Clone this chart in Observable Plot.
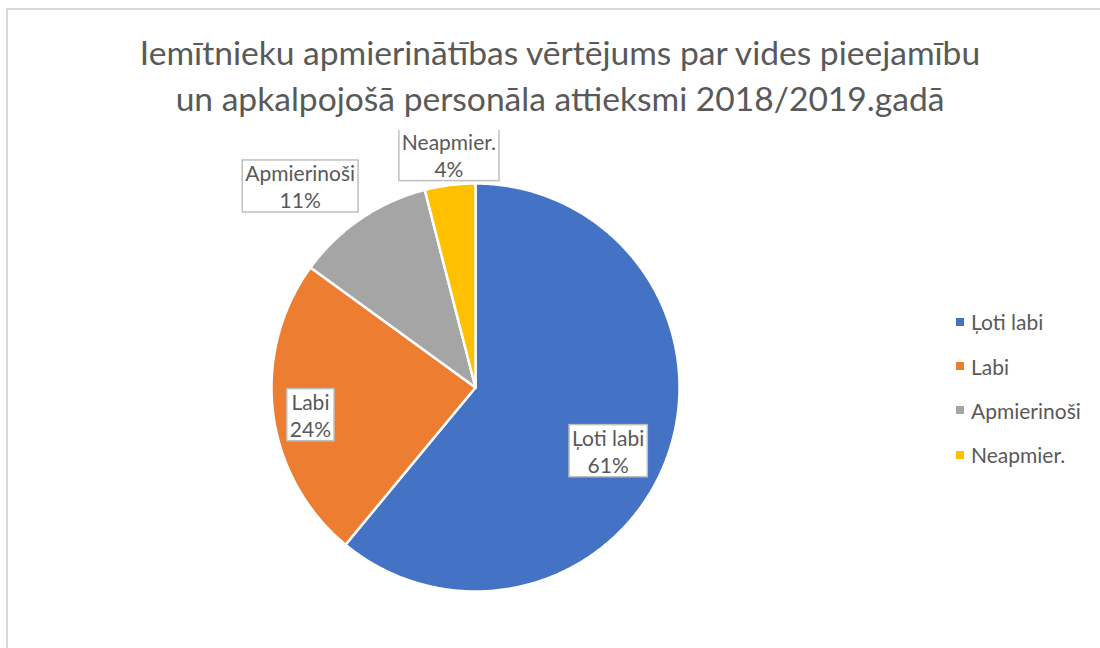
<!DOCTYPE html>
<html>
<head>
<meta charset="utf-8">
<script src="https://cdn.jsdelivr.net/npm/d3@7"></script>
<script src="https://cdn.jsdelivr.net/npm/@observablehq/plot@0.6"></script>
<style>
  html, body { margin: 0; padding: 0; background: #fff; }
  #wrap { position: relative; width: 1100px; height: 648px; overflow: hidden; font-family: Lato, "Open Sans", sans-serif; }
  #frame { position: absolute; left: 6px; top: 8px; width: 1200px; height: 700px; border-left: 2px solid #d9d9d9; border-top: 2px solid #d9d9d9; }
  #title { position: absolute; left: 0; top: 29px; width: 1120px; text-align: center; color: #595959; font-size: 33.6px; line-height: 46px; font-weight: 400; }
  #chart { position: absolute; left: 0; top: 130px; }
  #legend { position: absolute; left: 956px; top: 300px; }
  #legend, #legend * { font-size: 21px !important; color: #595959 !important; font-family: Lato, "Open Sans", sans-serif !important; }
</style>
</head>
<body>
<div id="wrap">
  <div id="frame"></div>
  <div id="title">Iemītnieku apmierinātības vērtējums par vides pieejamību<br>un apkalpojošā personāla attieksmi 2018/2019.gadā</div>
  <div id="chart"></div>
  <div id="legend"></div>
</div>
<script>
// Data
const categories = ["Ļoti labi", "Labi", "Apmierinoši", "Neapmier."];
const values = [61, 24, 11, 4];
const colors = ["#4472C4", "#ED7D31", "#A5A5A5", "#FFC000"];
// label placement (layout only): fraction of radius and angle shift in degrees
const labelRadius = [0.72, 0.82, 1.31, 1.15];
const labelShift = [5.6, -2.1, -6.8, 0.7];

const total = d3.sum(values);
let acc = 0;
const slices = categories.map((c, i) => {
  const a0 = acc / total * 2 * Math.PI;
  acc += values[i];
  const a1 = acc / total * 2 * Math.PI;
  return {cat: c, value: values[i], a0, a1, pct: Math.round(values[i] / total * 100)};
});

// polygon points for each slice (unit circle, angle clockwise from top)
const pts = [];
for (const s of slices) {
  pts.push({cat: s.cat, x: 0, y: 0});
  const n = Math.max(2, Math.ceil((s.a1 - s.a0) / 0.01));
  for (let k = 0; k <= n; k++) {
    const a = s.a0 + (s.a1 - s.a0) * k / n;
    pts.push({cat: s.cat, x: Math.sin(a), y: Math.cos(a)});
  }
}

const labels = slices.map((s, i) => {
  const m = (s.a0 + s.a1) / 2 + labelShift[i] * Math.PI / 180;
  const r = labelRadius[i];
  return {cat: s.cat, text: s.cat + "\n" + s.pct + "%", x: r * Math.sin(m), y: r * Math.cos(m)};
});

const R = 204, cx = 475, cy = 257;
const plot = Plot.plot({
  width: 1100,
  height: 518,
  margin: 0,
  x: {domain: [-1, 1], range: [cx - R, cx + R], axis: null},
  y: {domain: [-1, 1], range: [cy + R, cy - R], axis: null},
  color: {domain: categories, range: colors},
  style: {background: "transparent", fontFamily: "Lato, 'Open Sans', sans-serif"},
  marks: [
    Plot.line(pts, {x: "x", y: "y", z: "cat", fill: "cat", stroke: "white", strokeWidth: 2.5, curve: "linear-closed", strokeLinejoin: "round"}),
    Plot.text(labels, {x: "x", y: "y", text: "text", fill: "#595959", fontSize: 21, lineHeight: 1.29})
  ]
});
document.getElementById("chart").appendChild(plot);

// boxes behind labels
plot.querySelectorAll('g[aria-label="text"] text').forEach(t => {
  const b = t.getBBox();
  const rect = document.createElementNS("http://www.w3.org/2000/svg", "rect");
  rect.setAttribute("x", b.x - 3);
  rect.setAttribute("y", b.y);
  rect.setAttribute("width", b.width + 6);
  rect.setAttribute("height", b.height);
  rect.setAttribute("fill", "white");
  rect.setAttribute("stroke", "#bfbfbf");
  rect.setAttribute("stroke-width", "1.5");
  const tr = t.getAttribute("transform");
  if (tr) rect.setAttribute("transform", tr);
  t.parentNode.insertBefore(rect, t);
});

const leg = plot.legend("color", {columns: 1, swatchSize: 8});
document.getElementById("legend").appendChild(leg);
leg.style.margin = "0";
leg.querySelectorAll("svg").forEach(s => {
  const item = s.parentElement;
  item.style.height = "43.4px";
  item.style.margin = "0";
  item.style.display = "flex";
  item.style.alignItems = "center";
  s.style.marginRight = "7px";
});
</script>
</body>
</html>
